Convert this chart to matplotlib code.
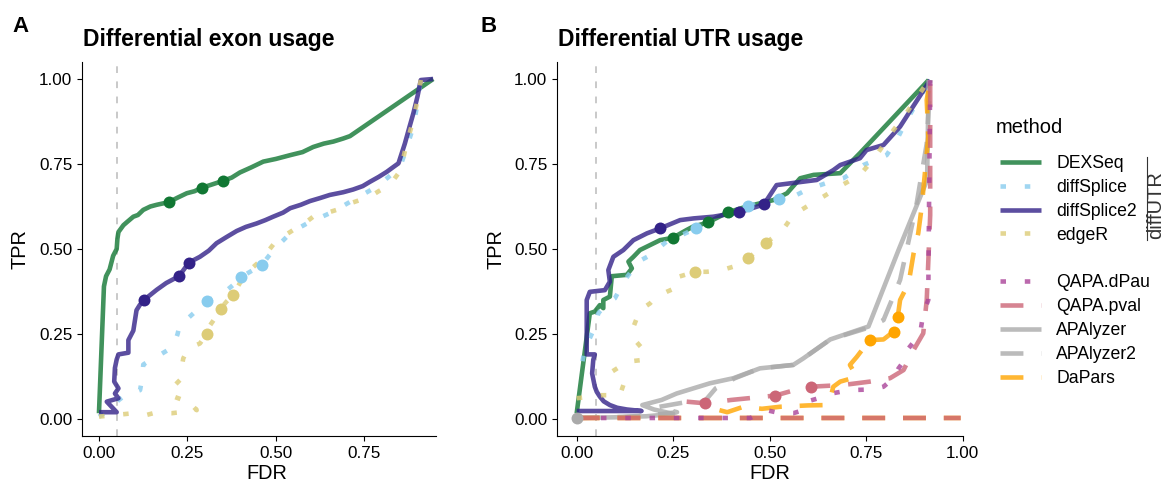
import matplotlib
matplotlib.use("Agg")
import matplotlib.pyplot as plt
from matplotlib.lines import Line2D
import numpy as np

plt.rcParams['font.family'] = ['Liberation Sans', 'DejaVu Sans']

nan = np.nan

# ---- method list, colours, line types
methods = ["DEXSeq", "diffSplice", "diffSplice2", "edgeR",
           "QAPA.dPau", "QAPA.pval", "APAlyzer", "APAlyzer2", "DaPars"]
colors = ["#117733", "#88CCEE", "#332288", "#DDCC77",
          "#AA4499", "#CC6677", "#AAAAAA", "#AAAAAA", "#FFA500"]
ltypes = ["solid", "dotted", "solid", "dotted",
          "dotted", "dashed", "solid", "dashed", "dashed"]
# drawing order of the lines (bottom to top)
draw_order = ["DEXSeq", "diffSplice", "diffSplice2", "edgeR",
              "APAlyzer", "APAlyzer2", "DaPars", "QAPA.pval", "QAPA.dPau"]

# ---- panel A: differential exon usage (FDR, TPR)
dex_a_fdr = [0.0, 0.0, 0.014, 0.02, 0.03, 0.04, 0.05, 0.052, 0.055, 0.069, 0.08, 0.097, 0.11, 0.125,
             0.145, 0.163, 0.198, 0.22, 0.248, 0.27, 0.29, 0.32, 0.349, 0.375, 0.398, 0.43, 0.464,
             0.50, 0.54, 0.575, 0.605, 0.635, 0.662, 0.69, 0.709, 0.944]
dex_a_tpr = [0.017, 0.02, 0.39, 0.42, 0.44, 0.48, 0.50, 0.53, 0.55, 0.57, 0.58, 0.595, 0.60, 0.615,
             0.625, 0.63, 0.638, 0.65, 0.664, 0.67, 0.68, 0.69, 0.70, 0.71, 0.725, 0.74, 0.757,
             0.765, 0.776, 0.785, 0.80, 0.81, 0.816, 0.825, 0.832, 1.0]

ds_a_fdr = [0.0, 0.02, 0.04, 0.055, 0.069, 0.09, 0.116, 0.123, 0.125, 0.14, 0.163, 0.19, 0.21, 0.222,
            0.229, 0.25, 0.267, 0.306, 0.33, 0.351, 0.38, 0.401, 0.43, 0.46, 0.48, 0.502, 0.52, 0.54,
            0.57, 0.596, 0.63, 0.662, 0.69, 0.718, 0.75, 0.784, 0.81, 0.841, 0.855, 0.864, 0.876,
            0.888, 0.9, 0.907]
ds_a_tpr = [0.007, 0.02, 0.04, 0.055, 0.066, 0.075, 0.085, 0.125, 0.16, 0.17, 0.183, 0.2, 0.213, 0.25,
            0.281, 0.295, 0.311, 0.347, 0.36, 0.37, 0.395, 0.417, 0.435, 0.453, 0.48, 0.507, 0.525,
            0.546, 0.565, 0.58, 0.595, 0.61, 0.627, 0.644, 0.663, 0.683, 0.705, 0.732, 0.755, 0.781,
            0.82, 0.86, 0.93, 0.987]

ds2_a_fdr = [0.0, 0.05, 0.022, 0.035, 0.055, 0.045, 0.055, 0.043, 0.045, 0.05, 0.055, 0.083, 0.083,
             0.092, 0.097, 0.10, 0.106, 0.115, 0.127, 0.145, 0.163, 0.19, 0.226, 0.24, 0.254, 0.285,
             0.31, 0.332, 0.36, 0.389, 0.415, 0.445, 0.47, 0.492, 0.52, 0.54, 0.57, 0.596, 0.625,
             0.652, 0.69, 0.718, 0.745, 0.766, 0.79, 0.813, 0.83, 0.846, 0.864, 0.876, 0.888, 0.9,
             0.909, 0.944]
ds2_a_tpr = [0.02, 0.02, 0.051, 0.055, 0.061, 0.075, 0.09, 0.11, 0.15, 0.175, 0.19, 0.195, 0.232,
             0.25, 0.26, 0.28, 0.32, 0.335, 0.35, 0.365, 0.38, 0.40, 0.42, 0.44, 0.46, 0.477, 0.495,
             0.517, 0.535, 0.553, 0.565, 0.575, 0.585, 0.595, 0.607, 0.62, 0.63, 0.641, 0.65, 0.659,
             0.667, 0.675, 0.685, 0.698, 0.712, 0.727, 0.74, 0.752, 0.81, 0.855, 0.899, 0.95, 0.997,
             1.0]

edger_a_fdr = [0.0, 0.097, 0.135, 0.153, 0.205, 0.238, 0.267, 0.276, 0.262, 0.224, 0.2, 0.21, 0.229,
               0.234, 0.238, 0.252, 0.285, 0.304, 0.314, 0.33, 0.344, 0.36, 0.379, 0.398, 0.41,
               0.426, 0.45, 0.475, 0.502, 0.525, 0.549, 0.58, 0.605, 0.64, 0.671, 0.709, 0.74,
               0.766, 0.79, 0.813, 0.83, 0.846, 0.858, 0.869, 0.888, 0.9, 0.909]
edger_a_tpr = [0.007, 0.017, 0.012, 0.017, 0.017, 0.021, 0.036, 0.026, 0.046, 0.061, 0.07, 0.095,
               0.115, 0.154, 0.178, 0.208, 0.222, 0.25, 0.276, 0.30, 0.325, 0.345, 0.365, 0.40,
               0.42, 0.438, 0.46, 0.49, 0.526, 0.54, 0.556, 0.575, 0.595, 0.605, 0.615, 0.634,
               0.645, 0.654, 0.67, 0.683, 0.70, 0.723, 0.76, 0.81, 0.88, 0.94, 0.997]

# threshold points (panel A)
dex_a_pt = ([0.198, 0.29, 0.349], [0.638, 0.68, 0.70])
ds_a_pt = ([0.306, 0.401, 0.46], [0.347, 0.417, 0.453])
ds2_a_pt = ([0.127, 0.226, 0.254], [0.35, 0.42, 0.46])
edger_a_pt = ([0.304, 0.344, 0.379], [0.25, 0.325, 0.365])

# ---- panel B: differential UTR usage (FDR, TPR)
dex_b_fdr = [0.0, 0.034, 0.047, 0.06, 0.069, 0.069, 0.086, 0.091, 0.13, 0.143, 0.134, 0.147, 0.164,
             0.182, 0.216, 0.249, 0.285, 0.30, 0.34, 0.392, 0.441, 0.51, 0.545, 0.579, 0.614, 0.683,
             0.734, 0.912]
dex_b_tpr = [0.017, 0.311, 0.316, 0.335, 0.326, 0.35, 0.36, 0.42, 0.424, 0.443, 0.463, 0.477, 0.497,
             0.507, 0.526, 0.533, 0.556, 0.565, 0.578, 0.608, 0.625, 0.644, 0.664, 0.708, 0.718,
             0.723, 0.782, 0.997]

ds_b_fdr = [0.015, 0.022, 0.035, 0.047, 0.056, 0.078, 0.099, 0.125, 0.16, 0.186, 0.207, 0.233, 0.27,
            0.31, 0.354, 0.40, 0.445, 0.49, 0.523, 0.561, 0.596, 0.657, 0.691, 0.717, 0.743, 0.803,
            0.829, 0.851, 0.873, 0.912]
ds_b_tpr = [0.17, 0.209, 0.24, 0.27, 0.311, 0.34, 0.355, 0.409, 0.463, 0.479, 0.497, 0.522, 0.54,
            0.561, 0.575, 0.60, 0.626, 0.638, 0.646, 0.654, 0.674, 0.698, 0.708, 0.727, 0.747,
            0.776, 0.82, 0.87, 0.914, 0.99]

ds2_b_fdr = [0.0, 0.168, 0.13, 0.105, 0.086, 0.07, 0.06, 0.052, 0.047, 0.04, 0.043, 0.047, 0.026,
             0.026, 0.034, 0.073, 0.086, 0.082, 0.095, 0.121, 0.147, 0.182, 0.217, 0.268, 0.303,
             0.354, 0.421, 0.485, 0.518, 0.587, 0.622, 0.665, 0.683, 0.734, 0.751, 0.795, 0.838,
             0.916]
ds2_b_tpr = [0.0235, 0.0235, 0.028, 0.033, 0.041, 0.052, 0.066, 0.08, 0.095, 0.134, 0.174, 0.19,
             0.19, 0.35, 0.374, 0.379, 0.404, 0.438, 0.477, 0.497, 0.526, 0.546, 0.561, 0.585,
             0.59, 0.595, 0.608, 0.631, 0.688, 0.698, 0.703, 0.732, 0.747, 0.767, 0.791, 0.806,
             0.86, 0.997]

edger_b_fdr = [0.0, 0.065, 0.112, 0.121, 0.091, 0.112, 0.134, 0.173, 0.177, 0.147, 0.147, 0.164,
               0.19, 0.207, 0.233, 0.263, 0.263, 0.307, 0.337, 0.376, 0.406, 0.445, 0.491, 0.531,
               0.561, 0.609, 0.639, 0.683, 0.734, 0.769, 0.795, 0.821, 0.851, 0.877, 0.907]
edger_b_tpr = [0.061, 0.07, 0.07, 0.10, 0.139, 0.154, 0.169, 0.174, 0.198, 0.237, 0.271, 0.32, 0.34,
               0.36, 0.374, 0.389, 0.418, 0.433, 0.433, 0.438, 0.448, 0.473, 0.519, 0.551, 0.60,
               0.634, 0.654, 0.685, 0.718, 0.764, 0.806, 0.85, 0.894, 0.938, 0.987]

dpau_b_fdr = [0.0, 0.45, 0.492, 0.527, 0.561, 0.587, 0.596, 0.626, 0.665, 0.708, 0.769, 0.795, 0.821,
              0.834, 0.847, 0.86, 0.877, 0.89, 0.898, 0.911, 0.912, 0.916]
dpau_b_tpr = [0.003, 0.003, 0.026, 0.017, 0.017, 0.026, 0.051, 0.061, 0.076, 0.085, 0.087, 0.095,
              0.12, 0.149, 0.169, 0.208, 0.232, 0.252, 0.31, 0.35, 0.5, 1.0]

pval_b_fdr = [0.0, 0.995, nan, 0.285, 0.334, 0.40, 0.48, 0.515, 0.58, 0.607, 0.69, 0.76, 0.812,
              0.847, 0.873, 0.898, 0.907, 0.911, 0.916, 0.916]
pval_b_tpr = [0.003, 0.003, nan, 0.051, 0.046, 0.056, 0.065, 0.069, 0.09, 0.095, 0.10, 0.11, 0.12,
              0.144, 0.203, 0.252, 0.35, 0.46, 0.6, 1.0]

apa_b_fdr = [0.0, 0.1, 0.18, 0.25, 0.2, 0.17, 0.22, 0.259, 0.302, 0.345, 0.406, 0.475, 0.561, 0.587,
             0.657, 0.756, 0.834, 0.908, 0.912]
apa_b_tpr = [0.003, 0.005, 0.008, 0.015, 0.028, 0.041, 0.056, 0.075, 0.09, 0.105, 0.12, 0.149,
             0.159, 0.178, 0.234, 0.272, 0.497, 0.703, 0.997]

apa2_b_fdr = [0.0, 0.12, 0.2, 0.26, 0.21, 0.285, 0.33, 0.36, 0.41, 0.475, 0.561, 0.587, 0.657, 0.76,
              0.795, 0.838, 0.855, 0.881, 0.907, 0.916]
apa2_b_tpr = [0.003, 0.006, 0.012, 0.02, 0.035, 0.05, 0.05, 0.09, 0.12, 0.149, 0.159, 0.178, 0.234,
              0.27, 0.291, 0.409, 0.497, 0.634, 0.81, 0.997]

dapars_b_fdr = [0.0, 0.995, nan, 0.37, 0.39, 0.432, 0.48, 0.527, 0.6, 0.648, 0.657, 0.665, 0.683,
                0.726, 0.708, 0.726, 0.759, 0.795, 0.821, 0.832, 0.838, 0.86, 0.873, 0.885, 0.894,
                0.903, 0.911, 0.907, 0.916]
dapars_b_tpr = [0.003, 0.003, nan, 0.026, 0.02, 0.036, 0.03, 0.036, 0.04, 0.041, 0.061, 0.095, 0.11,
                0.124, 0.159, 0.183, 0.232, 0.234, 0.257, 0.301, 0.35, 0.399, 0.487, 0.546, 0.624,
                0.732, 0.83, 0.938, 1.0]

# threshold points (panel B)
dex_b_pt = ([0.249, 0.34, 0.392], [0.533, 0.578, 0.608])
ds_b_pt = ([0.31, 0.445, 0.523], [0.561, 0.626, 0.646])
ds2_b_pt = ([0.217, 0.421, 0.485], [0.561, 0.608, 0.631])
edger_b_pt = ([0.307, 0.445, 0.491], [0.433, 0.473, 0.519])
pval_b_pt = ([0.333, 0.515, 0.607], [0.046, 0.069, 0.095])
apa_b_pt = ([0.0], [0.003])
dapars_b_pt = ([0.759, 0.821, 0.832], [0.232, 0.257, 0.301])

curves_a = {"DEXSeq": (dex_a_fdr, dex_a_tpr), "diffSplice": (ds_a_fdr, ds_a_tpr),
            "diffSplice2": (ds2_a_fdr, ds2_a_tpr), "edgeR": (edger_a_fdr, edger_a_tpr)}
points_a = {"DEXSeq": dex_a_pt, "diffSplice": ds_a_pt, "diffSplice2": ds2_a_pt, "edgeR": edger_a_pt}

curves_b = {"DEXSeq": (dex_b_fdr, dex_b_tpr), "diffSplice": (ds_b_fdr, ds_b_tpr),
            "diffSplice2": (ds2_b_fdr, ds2_b_tpr), "edgeR": (edger_b_fdr, edger_b_tpr),
            "QAPA.dPau": (dpau_b_fdr, dpau_b_tpr), "QAPA.pval": (pval_b_fdr, pval_b_tpr),
            "APAlyzer": (apa_b_fdr, apa_b_tpr), "APAlyzer2": (apa2_b_fdr, apa2_b_tpr),
            "DaPars": (dapars_b_fdr, dapars_b_tpr)}
points_b = {"DEXSeq": dex_b_pt, "diffSplice": ds_b_pt, "diffSplice2": ds2_b_pt, "edgeR": edger_b_pt,
            "QAPA.pval": pval_b_pt, "APAlyzer": apa_b_pt, "DaPars": dapars_b_pt}

LW = 3.3
dash = {"solid": "-", "dotted": (0, (1.2, 4.1)), "dashed": (0, (5.0, 3.9))}
col = dict(zip(methods, colors))
lty = dict(zip(methods, ltypes))

W, H = 1166, 484
fig = plt.figure(figsize=(W / 100, H / 100), dpi=100)


def px_axes(l, r, t, b):
    return fig.add_axes([l / W, 1 - b / H, (r - l) / W, (b - t) / H])


def style(ax, xlim, xticks):
    ax.axvline(0.05, color="#BBBBBB", lw=1.1, ls=(0, (4.4, 5.5)), zorder=0)
    ax.set_xlim(*xlim)
    ax.set_ylim(-0.05, 1.05)
    ax.set_xticks(xticks)
    ax.set_xticklabels([f"{t:.2f}" for t in xticks])
    ax.set_yticks([0, 0.25, 0.5, 0.75, 1.0])
    ax.set_yticklabels([f"{t:.2f}" for t in [0, 0.25, 0.5, 0.75, 1.0]])
    for s in ["top", "right"]:
        ax.spines[s].set_visible(False)
    for s in ["left", "bottom"]:
        ax.spines[s].set_linewidth(0.8)
    ax.tick_params(axis="both", length=3.3, width=0.8, labelsize=12.3, colors="black")
    ax.tick_params(axis="y", pad=3.6)
    ax.tick_params(axis="x", pad=4.0)
    ax.set_xlabel("FDR", fontsize=14.3)
    ax.set_ylabel("TPR", fontsize=14.3)


def draw(ax, curves, points):
    for m in draw_order:
        if m in curves:
            x, y = curves[m]
            ax.plot(x, y, color=col[m], lw=LW, ls=dash[lty[m]], alpha=0.8,
                    solid_capstyle="butt", dash_capstyle="butt")
    for m in methods:
        if m in points:
            x, y = points[m]
            ax.plot(x, y, "o", color=col[m], ms=8.6, mew=0, zorder=5)


axA = px_axes(82, 436, 62, 436)
style(axA, (-0.048, 0.952), [0, 0.25, 0.5, 0.75])
draw(axA, curves_a, points_a)
axA.xaxis.set_label_coords((267 - 82) / 354, -0.076)
axA.yaxis.set_label_coords((30 - 82) / 354, 0.5)

axB = px_axes(557, 963, 62, 436)
style(axB, (-0.051, 1.001), [0, 0.25, 0.5, 0.75, 1.0])
draw(axB, curves_b, points_b)
axB.xaxis.set_label_coords((770 - 557) / 406, -0.076)
axB.yaxis.set_label_coords((506 - 557) / 406, 0.5)

# titles and panel tags
fig.text(83 / W, 1 - 46 / H, "Differential exon usage", fontsize=16.5, fontweight="bold",
         ha="left", va="baseline")
fig.text(558 / W, 1 - 46 / H, "Differential UTR usage", fontsize=16.5, fontweight="bold",
         ha="left", va="baseline")
fig.text(12 / W, 1 - 32 / H, "A", fontsize=16, fontweight="bold", ha="left", va="baseline")
fig.text(481 / W, 1 - 32 / H, "B", fontsize=16, fontweight="bold", ha="left", va="baseline")

# legend (blank row separates the diffUTR group)
fig.text(996 / W, 1 - 133 / H, "method", fontsize=14.5, ha="left", va="baseline")
handles, labels = [], []
for i, m in enumerate(methods):
    if i == 4:
        handles.append(Line2D([], [], ls="none"))
        labels.append("")
    handles.append(Line2D([], [], color=col[m], lw=LW, ls=dash[lty[m]], alpha=0.8,
                          dash_capstyle="butt", solid_capstyle="butt"))
    labels.append(m)
leg = fig.legend(handles, labels, loc="upper left",
                 bbox_to_anchor=(1000 / W, 1 - 155 / H), frameon=False,
                 fontsize=12.7, handlelength=2.3, handletextpad=0.9, labelspacing=0.39,
                 borderpad=0, borderaxespad=0)

fig.add_artist(Line2D([1147 / W, 1147 / W], [1 - 157 / H, 1 - 240 / H], color="#333333", lw=0.8))
fig.text(1156 / W, 1 - 205 / H, "diffUTR", rotation=90, fontsize=14.5, color="#333333",
         ha="center", va="center")

fig.savefig("out.png", dpi=100)
